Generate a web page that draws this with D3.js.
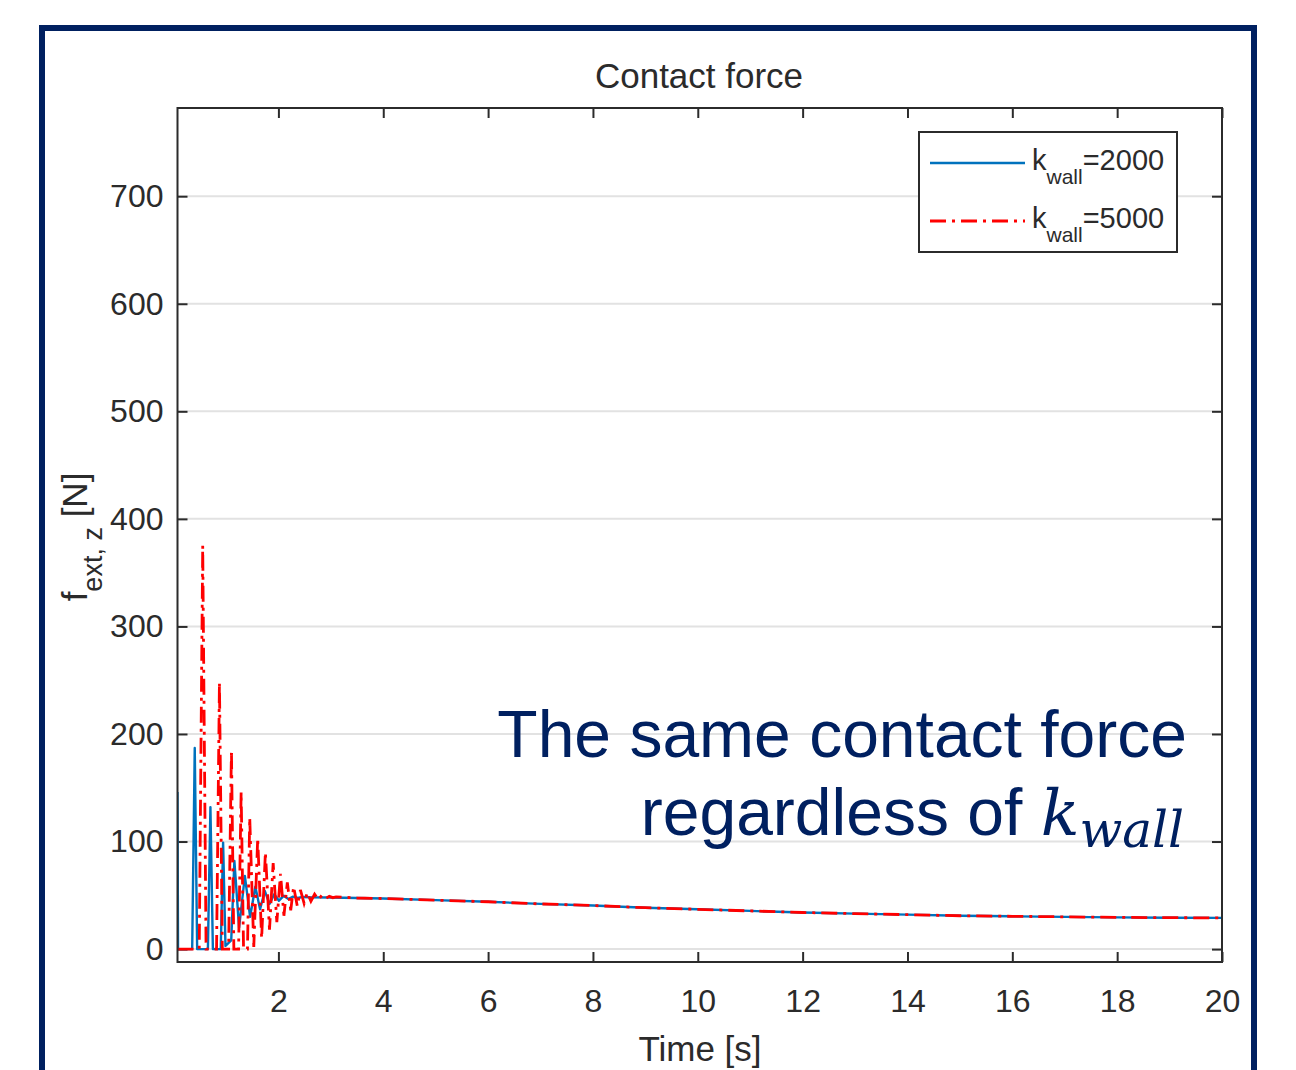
<!DOCTYPE html>
<html>
<head>
<meta charset="utf-8">
<script src="https://cdn.jsdelivr.net/npm/d3@7"></script>
<style>
  body { margin: 0; background: #fff; }
  svg { display: block; }
</style>
</head>
<body>
<svg id="chart" width="1296" height="1070"></svg>
<script>
// ---- data ----------------------------------------------------------------
const xTicks = [2, 4, 6, 8, 10, 12, 14, 16, 18, 20];
const yTicks = [0, 100, 200, 300, 400, 500, 600, 700];

// contact force, k_wall = 2000
const blueTime  = [0.075, 0.085, 0.355, 0.404, 0.45, 0.655, 0.703, 0.75, 0.9, 0.945, 0.99, 1.10, 1.16, 1.25,
                   1.36, 1.46, 1.56, 1.65, 1.74, 1.83, 1.92, 2.01, 2.10, 2.19, 2.28, 2.37, 2.46, 2.6, 3.0, 3.5,
                   4, 5, 6, 7, 8, 9, 10, 11, 12, 13, 14, 15, 16, 17, 18, 19, 20];
const blueForce = [146, 0, 0, 187, 0, 0, 132, 0, 0, 99, 3, 8, 82, 20,
                   68, 30, 58, 37, 54, 42, 51, 45, 49.5, 46.5, 48.8, 47.5, 48.5, 48.2, 48, 47.5,
                   47, 45.5, 44, 42, 40.5, 38.5, 37, 35.5, 34, 33, 32, 31, 30.5, 30, 29.5, 29.2, 29];

// contact force, k_wall = 5000
const redTime  = [0.075, 0.49, 0.556, 0.62, 0.82, 0.875, 0.93, 1.05, 1.104, 1.15, 1.24, 1.289, 1.335,
                  1.41, 1.453, 1.53, 1.605, 1.68, 1.752, 1.83, 1.90, 1.97, 2.04, 2.105, 2.17, 2.235, 2.29,
                  2.36, 2.42, 2.49, 2.55, 2.62, 2.69, 2.76, 2.83, 2.9, 2.97, 3.04, 3.1, 3.3, 3.5,
                  4, 5, 6, 7, 8, 9, 10, 11, 12, 13, 14, 15, 16, 17, 18, 19, 20];
const redForce = [0, 0, 375, 0, 0, 248, 0, 0, 185, 0, 0, 146, 0,
                  0, 122, 2, 103, 10, 90, 18, 80, 25, 70, 31, 62, 36, 58,
                  40, 55, 42.5, 52.5, 44.5, 51, 46, 50, 47, 49, 47.8, 48.5, 48, 47.5,
                  47, 45.5, 44, 42, 40.5, 38.5, 37, 35.5, 34, 33, 32, 31, 30.5, 30, 29.5, 29.2, 29];

const seriesNames = ["2000", "5000"];

// ---- layout ----------------------------------------------------------------
const svg = d3.select("#chart");
const font = "'Liberation Sans', Arial, Helvetica, sans-serif";
const mathFont = "'DejaVu Serif', 'Liberation Serif', serif";
const textColor = "#2b2b2b";
const navy = "#002060";

const box = { left: 177.5, right: 1222, top: 108, bottom: 962 };

const x = d3.scaleLinear().domain([0.075, 20]).range([box.left, box.right]);
const y = d3.scaleLinear().domain([-12, 782]).range([box.bottom, box.top]);

// slide frame
svg.append("rect")
  .attr("x", 42).attr("y", 28).attr("width", 1212).attr("height", 1100)
  .attr("fill", "none").attr("stroke", navy).attr("stroke-width", 6);

// horizontal grid
svg.append("g").selectAll("line").data(yTicks).join("line")
  .attr("x1", box.left).attr("x2", box.right)
  .attr("y1", d => y(d)).attr("y2", d => y(d))
  .attr("stroke", "#e2e2e2").attr("stroke-width", 2);

// axes with inward ticks
function styleAxis(g) {
  g.select(".domain").remove();
  g.selectAll(".tick line").attr("stroke", textColor).attr("stroke-width", 2);
  g.selectAll(".tick text").attr("fill", textColor).style("font-family", font).style("font-size", "32px");
}

svg.append("g").attr("transform", `translate(0,${box.bottom})`)
  .call(d3.axisBottom(x).tickValues(xTicks).tickSizeInner(-10).tickSizeOuter(0).tickPadding(27))
  .call(styleAxis);
svg.append("g").attr("transform", `translate(0,${box.top})`)
  .call(d3.axisTop(x).tickValues(xTicks).tickSizeInner(-10).tickSizeOuter(0).tickFormat(""))
  .call(styleAxis);
svg.append("g").attr("transform", `translate(${box.left},0)`)
  .call(d3.axisLeft(y).tickValues(yTicks).tickSizeInner(-10).tickSizeOuter(0).tickPadding(14))
  .call(styleAxis);
svg.append("g").attr("transform", `translate(${box.right},0)`)
  .call(d3.axisRight(y).tickValues(yTicks).tickSizeInner(-10).tickSizeOuter(0).tickFormat(""))
  .call(styleAxis);

// data lines
svg.append("clipPath").attr("id", "plotClip").append("rect")
  .attr("x", box.left).attr("y", box.top)
  .attr("width", box.right - box.left).attr("height", box.bottom - box.top);

const line = d3.line().x(d => x(d[0])).y(d => y(d[1]));
const bluePts = blueTime.map((t, i) => [t, blueForce[i]]);
const redPts = redTime.map((t, i) => [t, redForce[i]]);

const plot = svg.append("g").attr("clip-path", "url(#plotClip)");
plot.append("path").datum(bluePts).attr("d", line)
  .attr("fill", "none").attr("stroke", "#0072bd").attr("stroke-width", 2.4)
  .attr("stroke-linejoin", "round");
plot.append("path").datum(redPts).attr("d", line)
  .attr("fill", "none").attr("stroke", "#ff0000").attr("stroke-width", 2.8)
  .attr("stroke-dasharray", "16,6,3,6");

// axes box
svg.append("rect")
  .attr("x", box.left).attr("y", box.top)
  .attr("width", box.right - box.left).attr("height", box.bottom - box.top)
  .attr("fill", "none").attr("stroke", textColor).attr("stroke-width", 2);

// title and axis labels
svg.append("text").attr("x", 699).attr("y", 88).attr("text-anchor", "middle")
  .style("font-family", font).style("font-size", "35px").attr("fill", textColor)
  .text("Contact force");

svg.append("text").attr("x", 700).attr("y", 1061).attr("text-anchor", "middle")
  .style("font-family", font).style("font-size", "35px").attr("fill", textColor)
  .text("Time [s]");

const yLab = svg.append("text")
  .attr("transform", `translate(87,${(box.top + box.bottom) / 2 + 2}) rotate(-90)`)
  .attr("text-anchor", "middle")
  .style("font-family", font).style("font-size", "35px").attr("fill", textColor);
yLab.append("tspan").text("f");
yLab.append("tspan").attr("dy", 15).style("font-size", "27px").text("ext, z");
yLab.append("tspan").attr("dy", -15).text(" [N]");

// legend
const legend = svg.append("g");
legend.append("rect").attr("x", 919).attr("y", 132).attr("width", 258).attr("height", 120)
  .attr("fill", "#fff").attr("stroke", textColor).attr("stroke-width", 2);
const legendStyles = [
  { color: "#0072bd", dash: null, width: 2.4 },
  { color: "#ff0000", dash: "16,6,3,6", width: 2.8 }
];
seriesNames.forEach((name, i) => {
  const cy = 163 + i * 58;
  legend.append("line").attr("x1", 930).attr("x2", 1025).attr("y1", cy).attr("y2", cy)
    .attr("stroke", legendStyles[i].color).attr("stroke-width", legendStyles[i].width)
    .attr("stroke-dasharray", legendStyles[i].dash);
  const t = legend.append("text").attr("x", 1032).attr("y", cy + 7)
    .style("font-family", font).style("font-size", "29px").attr("fill", textColor);
  t.append("tspan").text("k");
  t.append("tspan").attr("dy", 14).style("font-size", "21px").text("wall");
  t.append("tspan").attr("dy", -14).text("=" + name);
});

// annotation
svg.append("text").attr("text-anchor", "end").attr("x", 1187).attr("y", 757)
  .style("font-family", font).style("font-size", "66px").attr("fill", navy)
  .text("The same contact force");
const note2 = svg.append("text").attr("text-anchor", "end").attr("x", 1184).attr("y", 835)
  .style("font-family", font).style("font-size", "66px").attr("fill", navy);
note2.append("tspan").text("regardless of ");
note2.append("tspan").style("font-family", mathFont)
  .style("font-style", "italic").style("font-size", "64px").text("k");
note2.append("tspan").attr("dy", 12)
  .style("font-family", mathFont)
  .style("font-style", "italic").style("font-size", "50px").text("wall");
</script>
</body>
</html>
